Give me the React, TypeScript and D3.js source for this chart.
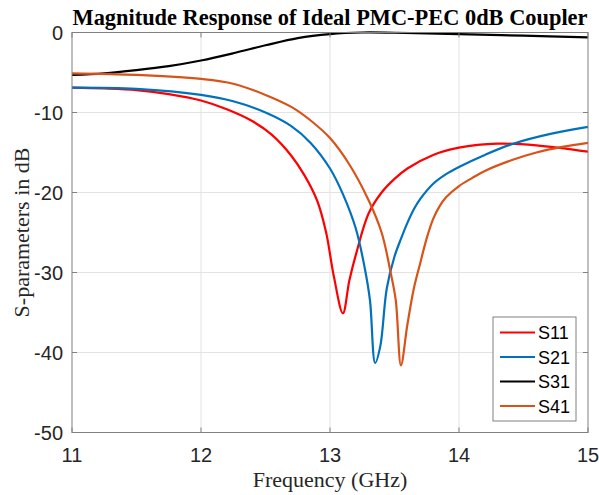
import React from "react";
import * as d3 from "d3";

const freqS11 = [11.0, 11.25, 11.5, 11.75, 12.0, 12.2, 12.4, 12.55, 12.7, 12.8, 12.9, 12.97, 13.03, 13.1, 13.15, 13.2, 13.3, 13.4, 13.5, 13.6, 13.8, 14.0, 14.3, 14.6, 15.0];
const s11 = [-6.9, -7.0, -7.2, -7.7, -8.5, -9.6, -11.1, -12.8, -15.4, -17.8, -21.0, -25.0, -30.5, -35.1, -31.0, -27.8, -22.6, -20.0, -18.3, -17.0, -15.3, -14.4, -13.9, -14.1, -14.9];

const freqS21 = [11.0, 11.5, 12.0, 12.25, 12.5, 12.7, 12.85, 13.0, 13.1, 13.2, 13.27, 13.31, 13.35, 13.39, 13.44, 13.5, 13.55, 13.6, 13.65, 13.7, 13.8, 13.9, 14.0, 14.2, 14.42, 14.7, 15.0];
const s21 = [-6.9, -7.05, -7.8, -8.6, -10.0, -11.7, -13.8, -17.0, -20.2, -24.5, -29.5, -33.5, -41.3, -39.2, -32.0, -28.0, -25.8, -23.8, -22.1, -20.8, -18.9, -17.7, -16.8, -15.3, -13.9, -12.7, -11.8];

const freqS31 = [11.0, 11.25, 11.5, 11.75, 12.0, 12.25, 12.5, 12.75, 13.0, 13.25, 13.5, 13.75, 14.0, 14.5, 15.0];
const s31 = [-5.3, -5.1, -4.7, -4.2, -3.5, -2.6, -1.6, -0.7, -0.2, 0.0, -0.03, -0.1, -0.2, -0.4, -0.6];

const freqS41 = [11.0, 11.5, 12.0, 12.25, 12.5, 12.7, 12.85, 13.0, 13.15, 13.3, 13.4, 13.47, 13.51, 13.55, 13.6, 13.65, 13.7, 13.75, 13.8, 13.85, 13.9, 14.0, 14.1, 14.2, 14.4, 14.6, 14.8, 15.0];
const s41 = [-5.1, -5.3, -5.8, -6.4, -7.8, -9.3, -11.0, -13.2, -16.5, -21.0, -25.0, -30.0, -33.5, -41.6, -36.5, -32.0, -28.8, -25.7, -23.3, -21.7, -20.6, -19.2, -18.2, -17.3, -16.0, -15.0, -14.3, -13.8];

const seriesNames = ["S11", "S21", "S31", "S41"];
const seriesColors = ["#ff0000", "#0072bd", "#000000", "#d95319"];
const xTicks = [11, 12, 13, 14, 15];
const yTicks = [0, -10, -20, -30, -40, -50];

const W = 599;
const H = 495;
const M = { left: 72, right: 11, top: 32.5, bottom: 62.5 };

export default function App() {
  const x = d3.scaleLinear().domain([11, 15]).range([M.left, W - M.right]);
  const y = d3.scaleLinear().domain([-50, 0]).range([H - M.bottom, M.top]);
  const line = d3
    .line<[number, number]>()
    .x((d) => x(d[0]))
    .y((d) => y(d[1]))
    .curve(d3.curveCatmullRom.alpha(0.5));

  const data: [number, number][][] = [
    freqS11.map((f, i) => [f, s11[i]] as [number, number]),
    freqS21.map((f, i) => [f, s21[i]] as [number, number]),
    freqS31.map((f, i) => [f, s31[i]] as [number, number]),
    freqS41.map((f, i) => [f, s41[i]] as [number, number]),
  ];

  const x0 = x(11), x1 = x(15), y0 = y(-50), y1 = y(0);
  const axisColor = "#808080";
  const textColor = "#262626";
  const tickLen = 5;

  const legX = 493, legY = 317, legW = 83, legH = 104;
  const legRowY = [332.5, 357, 381.5, 406];

  return (
    <svg width={W} height={H} style={{ position: "fixed", left: 0, top: 0, background: "#fff" }}>
      <rect x={0} y={0} width={W} height={H} fill="#fff" />
      <g>
        {xTicks.slice(1, -1).map((t) => (
          <line key={"gx" + t} x1={x(t)} x2={x(t)} y1={y1} y2={y0} stroke="#e3e3e3" strokeWidth={1} />
        ))}
        {yTicks.slice(1, -1).map((t) => (
          <line key={"gy" + t} x1={x0} x2={x1} y1={y(t)} y2={y(t)} stroke="#e3e3e3" strokeWidth={1} />
        ))}
      </g>
      <g>
        {data.map((d, i) => (
          <path key={seriesNames[i]} d={line(d) || ""} fill="none" stroke={seriesColors[i]} strokeWidth={2.2} strokeLinejoin="round" />
        ))}
      </g>
      <rect x={x0} y={y1} width={x1 - x0} height={y0 - y1} fill="none" stroke={axisColor} strokeWidth={1} />
      <g stroke={axisColor} strokeWidth={1}>
        {xTicks.map((t) => (
          <g key={"tx" + t}>
            <line x1={x(t)} x2={x(t)} y1={y0} y2={y0 - tickLen} />
            <line x1={x(t)} x2={x(t)} y1={y1} y2={y1 + tickLen} />
          </g>
        ))}
        {yTicks.map((t) => (
          <g key={"ty" + t}>
            <line x1={x0} x2={x0 + tickLen} y1={y(t)} y2={y(t)} />
            <line x1={x1} x2={x1 - tickLen} y1={y(t)} y2={y(t)} />
          </g>
        ))}
      </g>
      <g fontFamily="'Liberation Sans', Arial, sans-serif" fontSize={20} fill={textColor}>
        {xTicks.map((t) => (
          <text key={"lx" + t} x={x(t)} y={y0 + 29} textAnchor="middle">{t}</text>
        ))}
        {yTicks.map((t) => (
          <text key={"ly" + t} x={x0 - 9} y={y(t) + 7} textAnchor="end">{t}</text>
        ))}
      </g>
      <text x={(x0 + x1) / 2} y={24.5} textAnchor="middle" fontFamily="'Liberation Serif', 'Times New Roman', serif" fontWeight="bold" fontSize={22.4} fill="#000">
        Magnitude Response of Ideal PMC-PEC 0dB Coupler
      </text>
      <text x={(x0 + x1) / 2} y={487} textAnchor="middle" fontFamily="'Liberation Serif', 'Times New Roman', serif" fontSize={22} fill={textColor}>
        Frequency (GHz)
      </text>
      <text transform={`translate(29, ${(y0 + y1) / 2}) rotate(-90)`} textAnchor="middle" fontFamily="'Liberation Serif', 'Times New Roman', serif" fontSize={22} fill={textColor}>
        S-parameters in dB
      </text>
      <g>
        <rect x={legX} y={legY} width={legW} height={legH} fill="#fff" stroke={axisColor} strokeWidth={1} />
        {seriesNames.map((n, i) => (
          <g key={"lg" + n}>
            <line x1={500} x2={535} y1={legRowY[i]} y2={legRowY[i]} stroke={seriesColors[i]} strokeWidth={2.2} />
            <text x={538} y={legRowY[i] + 6.5} fontFamily="'Liberation Sans', Arial, sans-serif" fontSize={18} fill="#000">{n}</text>
          </g>
        ))}
      </g>
    </svg>
  );
}
